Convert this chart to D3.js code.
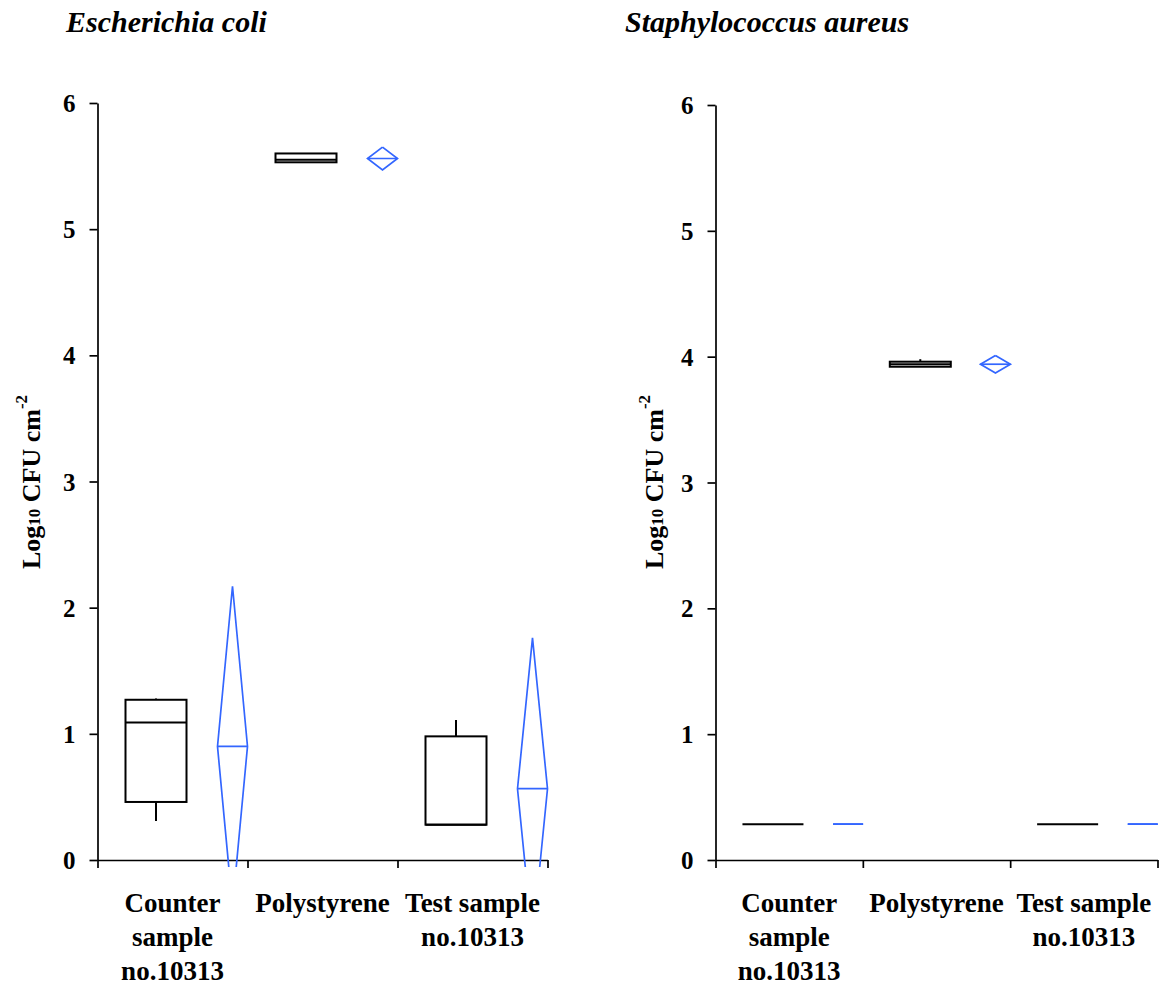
<!DOCTYPE html>
<html>
<head>
<meta charset="utf-8">
<script src="https://cdn.jsdelivr.net/npm/d3@7"></script>
<style>
  body { margin: 0; background: #fff; }
  svg { display: block; }
  text { font-family: "Liberation Serif", "Times New Roman", serif; font-weight: bold; fill: #000; }
</style>
</head>
<body>
<script>
// categories, two-line / three-line labels under the x axis
const categories = ['Counter sample no.10313', 'Polystyrene', 'Test sample no.10313']
const categoryLines = [['Counter', 'sample', 'no.10313'], ['Polystyrene'], ['Test sample', 'no.10313']]
const yTicks = [0, 1, 2, 3, 4, 5, 6]

// E. coli: box stats (black) and mean diamonds (blue), log10 CFU cm-2
const ecoliBoxes = [
  { min: 0.31, q1: 0.46, median: 1.09, q3: 1.27, max: 1.28 },
  { min: 5.53, q1: 5.53, median: 5.55, q3: 5.60, max: 5.60 },
  { min: 0.28, q1: 0.28, median: 0.28, q3: 0.98, max: 1.11 }
]
const ecoliMeans = [
  { lo: -0.37, mean: 0.90, hi: 2.17 },
  { lo: 5.47, mean: 5.56, hi: 5.65 },
  { lo: -0.63, mean: 0.565, hi: 1.76 }
]

// S. aureus
const aureusBoxes = [
  { min: 0.285, q1: 0.285, median: 0.285, q3: 0.285, max: 0.285 },
  { min: 3.92, q1: 3.92, median: 3.94, q3: 3.96, max: 3.98 },
  { min: 0.285, q1: 0.285, median: 0.285, q3: 0.285, max: 0.285 }
]
const aureusMeans = [
  { lo: 0.285, mean: 0.285, hi: 0.285 },
  { lo: 3.87, mean: 3.94, hi: 4.01 },
  { lo: 0.285, mean: 0.285, hi: 0.285 }
]

const blue = '#3366ff'
const svg = d3.select('body').append('svg')
  .attr('width', 1164)
  .attr('height', 988)

function drawPanel (cfg) {
  const { id, left, right, top, bottom, title, titleX, labelX, boxes, means } = cfg
  const g = svg.append('g')

  const x = d3.scaleBand().domain(categories).range([left, right])
  const xEdge = d3.scaleLinear().domain([0, categories.length]).range([left, right])
  const sub = d3.scalePoint().domain(['box', 'mean']).range([0.39, 0.9])
  const y = d3.scaleLinear().domain([0, 6]).range([bottom, top])
  const bw = x.bandwidth()
  const boxW = 61
  const halfW = 15

  g.append('text')
    .attr('x', titleX).attr('y', 32)
    .style('font-size', '30px')
    .style('font-style', 'italic')
    .text(title)

  // axes
  const yAxis = g.append('g')
    .attr('transform', `translate(${left},0)`)
    .call(d3.axisLeft(y).tickValues(yTicks).tickSize(8).tickSizeOuter(0).tickFormat(d3.format('d')))
  yAxis.selectAll('text')
    .attr('x', -22)
    .attr('dy', '0.34em')
    .style('font-size', '25px')
    .style('font-family', '"Liberation Serif", serif')
  const xAxis = g.append('g')
    .attr('transform', `translate(0,${bottom})`)
    .call(d3.axisBottom(xEdge).tickValues(d3.range(categories.length + 1)).tickSize(8).tickSizeOuter(0).tickFormat(''))
  g.selectAll('.domain, .tick line').attr('stroke', '#000').attr('stroke-width', 1.7)

  // category labels
  categories.forEach((c, i) => {
    const t = g.append('text')
      .attr('text-anchor', 'middle')
      .style('font-size', '27px')
    categoryLines[i].forEach((line, j) => {
      t.append('tspan')
        .attr('x', x(c) + bw / 2)
        .attr('y', 912 + j * 34)
        .text(line)
    })
  })

  // y label
  const yl = g.append('text')
    .attr('transform', `translate(${labelX},482) rotate(-90)`)
    .attr('text-anchor', 'middle')
    .style('font-size', '26px')
  yl.append('tspan').text('Log')
  yl.append('tspan').style('font-size', '17px').text('10')
  yl.append('tspan').text(' CFU cm')
  yl.append('tspan').style('font-size', '17px').attr('dy', '-0.75em').text('-2')

  g.append('clipPath').attr('id', 'clip-' + id)
    .append('rect')
    .attr('x', left).attr('y', top - 20)
    .attr('width', right - left + 20).attr('height', bottom - top + 27)
  const plot = g.append('g').attr('clip-path', `url(#clip-${id})`)

  // boxes
  const bx = d => x(categories[boxes.indexOf(d)]) + sub('box') * bw
  const bg = plot.selectAll('g.box').data(boxes).enter().append('g')
    .attr('class', 'box')
    .attr('stroke', '#000')
    .attr('stroke-width', 2)
    .attr('fill', 'none')
  bg.append('line')
    .attr('x1', bx).attr('x2', bx)
    .attr('y1', d => y(d.max)).attr('y2', d => y(d.q3))
  bg.append('line')
    .attr('x1', bx).attr('x2', bx)
    .attr('y1', d => y(d.q1)).attr('y2', d => y(d.min))
  bg.append('rect')
    .attr('x', d => bx(d) - boxW / 2)
    .attr('y', d => y(d.q3))
    .attr('width', boxW)
    .attr('height', d => Math.max(0, y(d.q1) - y(d.q3)))
  bg.append('line')
    .attr('x1', d => bx(d) - boxW / 2).attr('x2', d => bx(d) + boxW / 2)
    .attr('y1', d => y(d.median)).attr('y2', d => y(d.median))

  // mean diamonds
  const mx = d => x(categories[means.indexOf(d)]) + sub('mean') * bw
  const mg = plot.selectAll('g.mean').data(means).enter().append('g')
    .attr('class', 'mean')
    .attr('stroke', blue)
    .attr('stroke-width', 1.7)
    .attr('fill', 'none')
  mg.append('path')
    .attr('d', d => d3.line()([
      [mx(d), y(d.hi)], [mx(d) + halfW, y(d.mean)], [mx(d), y(d.lo)], [mx(d) - halfW, y(d.mean)], [mx(d), y(d.hi)]
    ]))
  mg.append('line')
    .attr('x1', d => mx(d) - halfW).attr('x2', d => mx(d) + halfW)
    .attr('y1', d => y(d.mean)).attr('y2', d => y(d.mean))
}

drawPanel({ id: 'ec', left: 97.5, right: 547.5, top: 103, bottom: 860, title: 'Escherichia coli', titleX: 66, labelX: 40, boxes: ecoliBoxes, means: ecoliMeans })
drawPanel({ id: 'sa', left: 715.5, right: 1157.5, top: 105, bottom: 860, title: 'Staphylococcus aureus', titleX: 625, labelX: 663, boxes: aureusBoxes, means: aureusMeans })
</script>
</body>
</html>
